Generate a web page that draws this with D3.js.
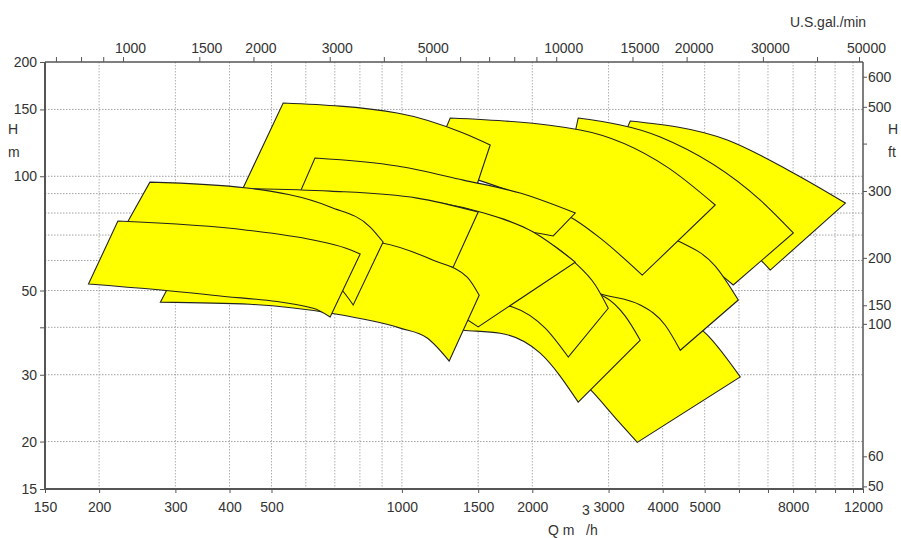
<!DOCTYPE html>
<html>
<head>
<meta charset="utf-8">
<script src="https://cdn.jsdelivr.net/npm/d3@7"></script>
<style>
  body { margin: 0; background: #fff; }
  text { font-family: "Liberation Sans", Arial, sans-serif; }
</style>
</head>
<body>
<svg id="chart" width="901" height="538"></svg>
<script>
// axis ticks (Q in m3/h, H in m)
const qLabels = [150, 200, 300, 400, 500, 1000, 1500, 2000, 3000, 4000, 5000, 8000, 12000];
const qMinor = [6000, 7000, 9000, 10000, 11000];
const qGrid = [200, 300, 400, 500, 600, 700, 800, 900, 1000, 1500, 2000, 3000, 4000, 5000, 6000, 7000, 8000, 9000, 10000, 11000];
const hLabels = [200, 150, 100, 50, 30, 20, 15];
const hMinor = [40];
const hGrid = [150, 100, 90, 80, 70, 60, 50, 40, 30, 20];
// secondary axes
const gpmLabels = [1000, 1500, 2000, 3000, 5000, 10000, 15000, 20000, 30000, 50000];
const gpmMinor = [700, 800, 900, 4000, 6000, 7000, 8000, 9000, 40000];
const ftTicks = [600, 500, 400, 300, 200, 150, 134, 60, 50];
const ftLabels = ["600", "500", "", "300", "200", "150", "100", "60", "50"];
const GPM_PER_M3H = 4.403;
const FT_PER_M = 3.2808;

// pump ranges: [Q m3/h, H m] along max curve (top) and min curve (bottom)
const pumpJTop = [[3366, 139.8], [5638, 124.6], [8010, 102.0], [10562, 85.0]];
const pumpJBottom = [[2870, 92.0], [4391, 84.0], [6041, 67.9], [7087, 56.6]];
const pumpITop = [[2553, 142.4], [3948, 126.9], [6720, 86.5], [8010, 70.9]];
const pumpIBottom = [[2320, 86.5], [3550, 75.7], [4391, 65.9], [5015, 59.4], [5820, 51.7]];
const pumpMTop = [[2320, 54.9], [3192, 50.7], [4164, 44.9], [5069, 38.2], [6041, 29.6]];
const pumpMBottom = [[2086, 35.9], [2383, 31.8], [2766, 26.9], [3108, 23.1], [3494, 19.9]];
const pumpKTop = [[1686, 84.0], [2870, 75.7], [4391, 67.1], [5289, 58.0], [5978, 47.2]];
const pumpKBottom = [[1516, 53.3], [2320, 51.7], [2948, 48.6], [3550, 45.8], [4055, 40.5], [4391, 34.8]];
const pumpNTop = [[1226, 56.6], [1875, 52.6], [2580, 50.1], [2948, 48.0], [3278, 42.8], [3550, 37.0]];
const pumpNBottom = [[1102, 40.3], [1385, 39.3], [1686, 38.6], [2086, 34.2], [2553, 25.4]];
const pumpHTop = [[1293, 142.4], [2580, 132.4], [4098, 105.7], [5289, 84.0]];
const pumpHBottom = [[1162, 107.0], [1875, 89.2], [2513, 76.7], [2870, 68.7], [3588, 54.9]];
const pumpDTop = [[532, 156], [975, 146.8], [1385, 130.0], [1599, 120.9]];
const pumpDBottom = [[412, 84.0], [759, 82.4], [1226, 79.0], [1400, 76.7]];
const pumpETop = [[630, 111.7], [975, 106.4], [1385, 97.7], [1875, 90.3], [2513, 80.0]];
const pumpEBottom = [[552, 79.0], [991, 75.7], [1516, 73.9], [1875, 72.1], [2235, 69.6]];
const pumpLTop = [[1438, 75.7], [2086, 68.7], [2513, 59.1], [2795, 51.7], [2995, 44.9]];
const pumpLBottom = [[1438, 47.2], [1807, 45.2], [2142, 39.8], [2421, 33.4]];
const pumpGTop = [[683, 89.2], [991, 87.6], [1516, 80.5], [2010, 71.3], [2513, 59.4]];
const pumpGBottom = [[582, 56.6], [991, 48.6], [1293, 44.4], [1500, 40.1]];
const pumpFTop = [[370, 93.1], [683, 91.4], [1085, 87.6], [1500, 80.5]];
const pumpFBottom = [[324, 62.0], [582, 60.9], [991, 59.4], [1313, 57.6]];
const pumpCTop = [[333, 69.6], [582, 69.6], [900, 66.7], [1181, 60.1], [1415, 54.2], [1508, 48.6]];
const pumpCBottom = [[277, 46.6], [446, 46.0], [683, 43.6], [991, 39.8], [1144, 37.5], [1286, 32.6]];
const pumpBTop = [[262, 96.5], [439, 93.1], [683, 83.0], [845, 73.5], [905, 67.1]];
const pumpBBottom = [[214, 63.9], [342, 63.1], [523, 59.4], [683, 53.9], [772, 45.8]];
const pumpATop = [[221, 76.2], [439, 72.1], [624, 67.9], [740, 64.7], [801, 62.4]];
const pumpABottom = [[189, 52.0], [366, 48.6], [624, 44.9], [683, 42.6]];

// back to front
const pumps = [
  [pumpJTop, pumpJBottom], [pumpITop, pumpIBottom], [pumpMTop, pumpMBottom],
  [pumpKTop, pumpKBottom], [pumpNTop, pumpNBottom], [pumpHTop, pumpHBottom],
  [pumpDTop, pumpDBottom], [pumpETop, pumpEBottom], [pumpLTop, pumpLBottom],
  [pumpGTop, pumpGBottom], [pumpFTop, pumpFBottom], [pumpCTop, pumpCBottom],
  [pumpBTop, pumpBBottom], [pumpATop, pumpABottom]
];

const svg = d3.select("#chart");
const plotLeft = 45, plotRight = 863, plotTop = 62, plotBottom = 489;

const x = d3.scaleLog().domain([150, 11600]).range([plotLeft, plotRight]).clamp(true);
const y = d3.scaleLog().domain([15, 200]).range([plotBottom, plotTop]);
const xGpm = d3.scaleLog().domain([150 * GPM_PER_M3H, 11600 * GPM_PER_M3H]).range([plotLeft, plotRight]);
const yFt = d3.scaleLog().domain([15 * FT_PER_M, 200 * FT_PER_M]).range([plotBottom, plotTop]);

// grid
svg.append("g").selectAll("line").data(qGrid).join("line")
  .attr("x1", d => x(d)).attr("x2", d => x(d))
  .attr("y1", plotTop).attr("y2", plotBottom)
  .attr("stroke", "#b0b0b0").attr("stroke-dasharray", "1.5,1.5");
svg.append("g").selectAll("line").data(hGrid).join("line")
  .attr("x1", plotLeft).attr("x2", plotRight)
  .attr("y1", d => y(d)).attr("y2", d => y(d))
  .attr("stroke", "#a0a0a0").attr("stroke-dasharray", "1.5,1.5");

// pump areas
const line = d3.line()
  .x(d => x(d[0])).y(d => y(d[1]))
  .curve(d3.curveMonotoneX);

svg.append("g").selectAll("path").data(pumps).join("path")
  .attr("d", ([t, b]) => line(t) + line(b.slice().reverse()).replace(/^M/, "L") + "Z")
  .attr("fill", "#ffff00")
  .attr("stroke", "#222")
  .attr("stroke-width", 1.1)
  .attr("stroke-linejoin", "miter");

// axes
function style(g, size) {
  g.attr("color", "#555").attr("font-size", size).attr("font-family", "Liberation Sans, Arial, sans-serif");
  g.select(".domain").remove();
  g.selectAll("text").attr("fill", "#333");
}

svg.append("g").attr("transform", `translate(0,${plotBottom})`)
  .call(d3.axisBottom(x).tickValues(qLabels.concat(qMinor))
    .tickFormat(d => qLabels.includes(d) ? d : "").tickSize(4).tickPadding(9))
  .call(g => style(g, 14));

svg.append("g").attr("transform", `translate(0,${plotTop})`)
  .call(d3.axisTop(xGpm).tickValues(gpmLabels.concat(gpmMinor))
    .tickFormat(d => gpmLabels.includes(d) ? d : "").tickSize(5).tickPadding(4))
  .call(g => style(g, 14))
  .call(g => g.selectAll("text").attr("dx", 7));

svg.append("g").attr("transform", `translate(${plotLeft},0)`)
  .call(d3.axisLeft(y).tickValues(hLabels.concat(hMinor))
    .tickFormat(d => hLabels.includes(d) ? d : "").tickSize(5).tickPadding(3))
  .call(g => style(g, 14));

svg.append("g").attr("transform", `translate(${plotRight},0)`)
  .call(d3.axisRight(yFt).tickValues(ftTicks)
    .tickFormat((d, i) => ftLabels[i]).tickSize(4).tickPadding(1))
  .call(g => style(g, 14));

// frame
const frame = svg.append("g").attr("stroke", "#555").attr("fill", "none");
frame.append("line").attr("x1", plotLeft).attr("x2", plotRight).attr("y1", plotTop).attr("y2", plotTop).attr("stroke-width", 1.5);
frame.append("line").attr("x1", plotRight).attr("x2", plotRight).attr("y1", plotTop).attr("y2", plotBottom).attr("stroke-width", 1.5);
frame.append("line").attr("x1", plotLeft).attr("x2", plotLeft).attr("y1", plotTop).attr("y2", plotBottom + 1).attr("stroke-width", 2);
frame.append("line").attr("x1", plotLeft).attr("x2", plotRight).attr("y1", plotBottom).attr("y2", plotBottom).attr("stroke-width", 2);

// titles
const lab = svg.append("g").attr("font-size", 14).attr("fill", "#333");
lab.append("text").attr("x", 828).attr("y", 27).attr("text-anchor", "middle").text("U.S.gal./min");
lab.append("text").attr("x", 8).attr("y", 134).text("H");
lab.append("text").attr("x", 8).attr("y", 157).text("m");
lab.append("text").attr("x", 888).attr("y", 134).text("H");
lab.append("text").attr("x", 888).attr("y", 157).text("ft");
lab.append("text").attr("x", 548).attr("y", 535).text("Q  m");
lab.append("text").attr("x", 582).attr("y", 515).text("3");
lab.append("text").attr("x", 586).attr("y", 535).text("/h");
</script>
</body>
</html>
